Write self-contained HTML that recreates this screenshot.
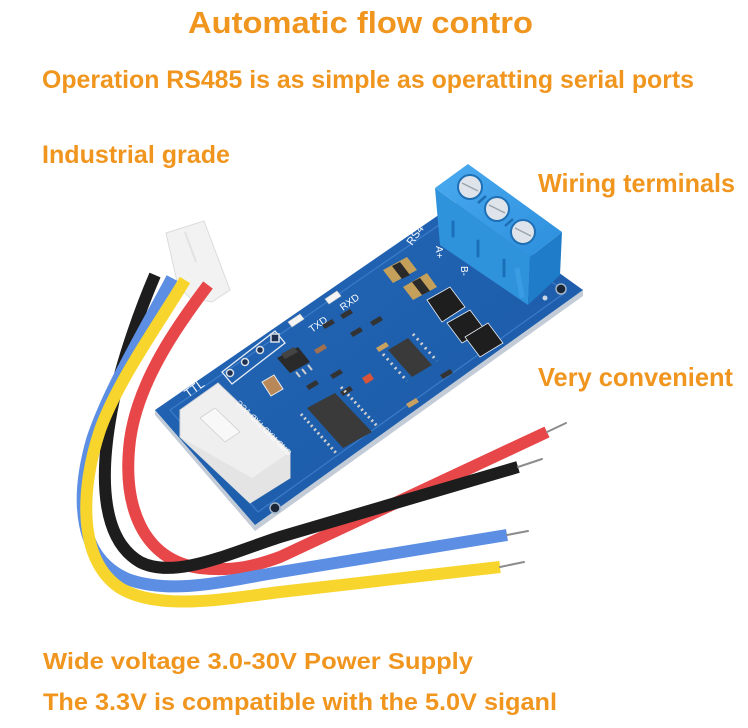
<!DOCTYPE html>
<html>
<head>
<meta charset="utf-8">
<style>
  html, body { margin:0; padding:0; background:#ffffff; }
  body { width:748px; height:728px; overflow:hidden; }
  svg { display:block; }
  .t { font-family:"Liberation Sans", sans-serif; font-weight:bold; fill:#f0951e; }
  .s { font-family:"Liberation Sans", sans-serif; fill:#ffffff; }
</style>
</head>
<body>
<svg width="748" height="728" viewBox="0 0 748 728" xmlns="http://www.w3.org/2000/svg">
  <defs>
    <linearGradient id="pcb" x1="0" y1="0" x2="1" y2="1">
      <stop offset="0" stop-color="#2468b8"/>
      <stop offset="1" stop-color="#1a58a4"/>
    </linearGradient>
    <linearGradient id="tb" x1="0" y1="0" x2="1" y2="1">
      <stop offset="0" stop-color="#4aaaf0"/>
      <stop offset="1" stop-color="#2c8fdc"/>
    </linearGradient>
  </defs>

  <!-- Titles -->
  <text class="t" x="188" y="33" font-size="31" textLength="345" lengthAdjust="spacingAndGlyphs">Automatic flow contro</text>
  <text class="t" x="42" y="88" font-size="25" textLength="652" lengthAdjust="spacingAndGlyphs">Operation RS485 is as simple as operatting serial ports</text>
  <text class="t" x="42" y="163" font-size="25" textLength="188" lengthAdjust="spacingAndGlyphs">Industrial grade</text>
  <text class="t" x="538" y="192" font-size="26" textLength="197" lengthAdjust="spacingAndGlyphs">Wiring terminals</text>
  <text class="t" x="538" y="386" font-size="26" textLength="195" lengthAdjust="spacingAndGlyphs">Very convenient</text>
  <text class="t" x="43" y="669" font-size="23" textLength="430" lengthAdjust="spacingAndGlyphs">Wide voltage 3.0-30V Power Supply</text>
  <text class="t" x="43" y="710" font-size="24" textLength="514" lengthAdjust="spacingAndGlyphs">The 3.3V is compatible with the 5.0V siganl</text>

  <!-- Board edge (thickness) -->
  <polygon points="155,410 155,415 255,531 583,296 583,290 255,525" fill="#c3ccd6"/>
  <!-- Board top -->
  <polygon points="155,410 459,201 583,290 255,525" fill="url(#pcb)"/>
  <!-- subtle silkscreen border -->
  <polygon points="170,410 455,214 566,292 258,512" fill="none" stroke="#3c7cc8" stroke-width="1.2"/>

  <!-- Mounting holes -->
  <circle cx="275" cy="508" r="5" fill="#1a2638" stroke="#9fb3c9" stroke-width="1.5"/>
  <circle cx="561" cy="289" r="5" fill="#1a2638" stroke="#9fb3c9" stroke-width="1.5"/>
  <circle cx="545" cy="298" r="2.5" fill="#c9d6e4"/>

  <!-- Header pins box -->
  <polygon points="222,372 275,331 285,343 232,384" fill="none" stroke="#e8eef5" stroke-width="1.3"/>
  <circle cx="230" cy="373" r="3.5" fill="#203050" stroke="#d8e0ea" stroke-width="1.5"/>
  <circle cx="245" cy="362" r="3.5" fill="#203050" stroke="#d8e0ea" stroke-width="1.5"/>
  <circle cx="260" cy="350" r="3.5" fill="#203050" stroke="#d8e0ea" stroke-width="1.5"/>
  <rect x="271" y="334" width="8" height="8" fill="#203050" stroke="#d8e0ea" stroke-width="1.5"/>

  <!-- TTL connector on board -->
  <polygon points="180,410 218,383 290,452 290,478 250,503 180,437" fill="#efefef" stroke="#d6d6d6" stroke-width="1"/>
  <polygon points="180,437 250,503 290,478 290,452 252,478" fill="#e4e4e4"/>
  <polygon points="200,418 215,408 240,432 225,442" fill="#f8f8f8" stroke="#d0d0d0" stroke-width="0.8"/>

  <!-- Board text -->
  <text class="s" x="188" y="398" font-size="12" transform="rotate(-36 188 398)">TTL</text>
  <text class="s" x="292" y="452" font-size="8" transform="rotate(-135 292 452)">GND RXD TXD VCC</text>
  <text class="s" x="312" y="333" font-size="10" transform="rotate(-36 312 333)">TXD</text>
  <text class="s" x="343" y="311" font-size="10" transform="rotate(-36 343 311)">RXD</text>
  <text class="s" x="412" y="246" font-size="11" transform="rotate(-55 412 246)">RS4</text>
  <text class="s" x="436" y="246" font-size="10" transform="rotate(90 436 246)">A+</text>
  <text class="s" x="461" y="266" font-size="10" transform="rotate(90 461 266)">B-</text>

  <!-- LEDs -->
  <polygon points="288,322 300,314 304,319 292,327" fill="#f4f4f4" stroke="#ccc" stroke-width="0.6"/>
  <polygon points="325,299 337,291 341,296 329,304" fill="#f4f4f4" stroke="#ccc" stroke-width="0.6"/>

  <!-- small resistors -->
  <polygon points="322,325 332,319 335,323 325,329" fill="#333"/>
  <polygon points="340,315 350,309 353,313 343,319" fill="#333"/>
  <polygon points="350,333 360,327 363,331 353,337" fill="#333"/>
  <polygon points="370,322 380,316 383,320 373,326" fill="#333"/>
  <polygon points="330,375 340,369 343,373 333,379" fill="#333"/>
  <polygon points="306,386 316,380 319,384 309,390" fill="#333"/>
  <polygon points="340,392 350,386 353,390 343,396" fill="#333"/>
  <polygon points="440,375 450,369 453,373 443,379" fill="#333"/>
  <polygon points="406,404 416,398 419,402 409,408" fill="#c8a060"/>
  <polygon points="376,348 386,342 389,346 379,352" fill="#c8a060"/>
  <polygon points="314,350 324,344 327,348 317,354" fill="#a07050"/>
  <!-- diode -->
  <polygon points="362,378 370,373 374,379 366,384" fill="#d8553a"/>

  <!-- cap C8 -->
  <polygon points="262,382 274,375 283,389 271,396" fill="#b88858" stroke="#eee" stroke-width="1"/>

  <!-- SOT-223 -->
  <polygon points="277,358 298,347 310,362 290,373" fill="#2a2a2a"/>
  <polygon points="281,354 294,347 298,352 285,359" fill="#444"/>
  <line x1="296" y1="372" x2="300" y2="377" stroke="#cfcfcf" stroke-width="2"/>
  <line x1="302" y1="369" x2="306" y2="374" stroke="#cfcfcf" stroke-width="2"/>
  <line x1="308" y1="365" x2="312" y2="370" stroke="#cfcfcf" stroke-width="2"/>

  <!-- SOIC-16 -->
  <polygon points="307,408 335,393 372,432 343,448" fill="#3a3a3a"/>
  <line x1="341" y1="387" x2="378" y2="427" stroke="#d0d0d0" stroke-width="3" stroke-dasharray="2 3"/>
  <line x1="301" y1="414" x2="337" y2="454" stroke="#d0d0d0" stroke-width="3" stroke-dasharray="2 3"/>

  <!-- SOIC-8 -->
  <polygon points="388,350 408,338 432,365 412,377" fill="#3a3a3a"/>
  <line x1="413" y1="334" x2="437" y2="361" stroke="#d0d0d0" stroke-width="3" stroke-dasharray="2 4"/>
  <line x1="383" y1="354" x2="407" y2="381" stroke="#d0d0d0" stroke-width="3" stroke-dasharray="2 4"/>

  <!-- Gold caps -->
  <polygon points="383,270 407,257 417,270 393,283" fill="#c4a05a"/>
  <polygon points="392,266 400,262 410,275 402,279" fill="#2a2a2a"/>
  <polygon points="403,287 427,273 437,287 413,300" fill="#c4a05a"/>
  <polygon points="412,282 420,278 430,291 422,295" fill="#2a2a2a"/>

  <!-- MOSFETs -->
  <polygon points="427,300 450,287 465,307 442,322" fill="#1e1e1e" stroke="#e8eef5" stroke-width="0.8"/>
  <polygon points="447,323 470,310 485,330 462,343" fill="#1e1e1e" stroke="#e8eef5" stroke-width="0.8"/>
  <polygon points="465,337 488,323 503,343 480,357" fill="#1e1e1e" stroke="#e8eef5" stroke-width="0.8"/>

  <!-- Terminal block -->
  <polygon points="435,188 530,257 528,305 440,245" fill="#2f93dc"/>
  <polygon points="530,257 562,232 560,275 528,305" fill="#1f7cc8"/>
  <polygon points="435,188 468,164 562,232 530,257" fill="url(#tb)"/>
  <line x1="453" y1="222" x2="453" y2="236" stroke="#1a6fb8" stroke-width="3" stroke-linecap="round"/>
  <line x1="478" y1="241" x2="478" y2="256" stroke="#1a6fb8" stroke-width="3" stroke-linecap="round"/>
  <line x1="504" y1="260" x2="504" y2="276" stroke="#1a6fb8" stroke-width="3" stroke-linecap="round"/>
  <rect x="517" y="268" width="5" height="30" fill="#3a9de4" transform="rotate(-10 519 283)"/>
  <circle cx="470" cy="187" r="12" fill="#dfe4ea" stroke="#1f6fb5" stroke-width="2"/>
  <circle cx="497" cy="209" r="12" fill="#dfe4ea" stroke="#1f6fb5" stroke-width="2"/>
  <circle cx="523" cy="232" r="12" fill="#dfe4ea" stroke="#1f6fb5" stroke-width="2"/>
  <line x1="462" y1="183" x2="478" y2="191" stroke="#9aa4ae" stroke-width="1.5"/>
  <line x1="489" y1="205" x2="505" y2="213" stroke="#9aa4ae" stroke-width="1.5"/>
  <line x1="515" y1="228" x2="531" y2="236" stroke="#9aa4ae" stroke-width="1.5"/>
  <line x1="478" y1="203" x2="486" y2="196" stroke="#1f6fb5" stroke-width="2.5"/>
  <line x1="505" y1="226" x2="513" y2="219" stroke="#1f6fb5" stroke-width="2.5"/>

  <!-- Cable connector housing -->
  <polygon points="166,233 204,221 230,290 212,302 190,298 178,286" fill="#f2f2f2" stroke="#dcdcdc" stroke-width="1"/>
  <line x1="185" y1="232" x2="196" y2="262" stroke="#e2e2e2" stroke-width="2"/>

  <!-- Wires -->
  <g fill="none" stroke-width="12" stroke-linecap="butt">
    <path d="M208,285 C180,322 138,380 130,440 C122,505 142,560 200,568 C235,572 258,565 280,557 L547,432" stroke="#e8474a"/>
    <path d="M155,275 C140,310 118,370 110,420 C100,480 102,540 140,562 C175,580 230,553 280,537 L518,467" stroke="#1d1d1d"/>
    <path d="M172,278 C150,320 108,390 92,440 C75,500 78,560 130,580 C175,595 230,580 280,572 L507,535" stroke="#5c8fe3"/>
    <path d="M185,280 C160,322 118,380 100,430 C80,490 78,560 120,588 C160,612 230,598 280,592 L500,567" stroke="#f8d52c"/>
  </g>
  <!-- bare tips -->
  <g stroke="#8c8c8c" stroke-width="2" stroke-linecap="round">
    <line x1="547" y1="432" x2="566" y2="423"/>
    <line x1="518" y1="467" x2="542" y2="459"/>
    <line x1="507" y1="535" x2="528" y2="531"/>
    <line x1="500" y1="567" x2="524" y2="562"/>
  </g>
</svg>
</body>
</html>
